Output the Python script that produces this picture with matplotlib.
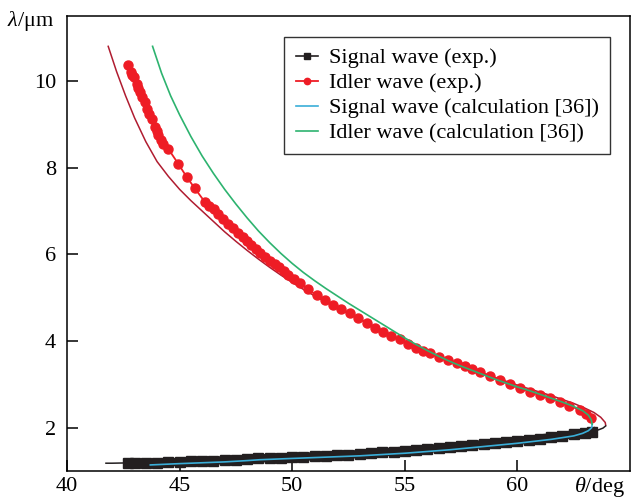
import matplotlib
matplotlib.use("Agg")
import matplotlib.pyplot as plt

plt.rcParams['font.family'] = ['Liberation Serif', 'DejaVu Serif']
plt.rcParams['mathtext.fontset'] = 'custom'
plt.rcParams['mathtext.rm'] = 'Liberation Serif'
plt.rcParams['mathtext.it'] = 'Liberation Serif:italic'

# Signal wave, experiment (deg, um)
sig_exp_theta = [42.7, 43.0, 43.5, 44.0, 44.5, 45.0, 45.5, 46.0, 46.5, 47.0, 47.5, 48.0,
                 48.5, 49.0, 49.5, 50.0, 50.5, 51.0, 51.5, 52.0, 52.5, 53.0, 53.5, 54.0,
                 54.5, 55.0, 55.5, 56.0, 56.5, 57.0, 57.5, 58.0, 58.5, 59.0, 59.5, 60.0,
                 60.5, 61.0, 61.5, 62.0, 62.5, 63.0, 63.3]
sig_exp_lam = [1.18, 1.18, 1.19, 1.19, 1.20, 1.21, 1.22, 1.23, 1.24, 1.25, 1.26, 1.27,
               1.29, 1.30, 1.31, 1.32, 1.33, 1.34, 1.35, 1.37, 1.38, 1.39, 1.41, 1.43,
               1.45, 1.47, 1.49, 1.51, 1.53, 1.56, 1.58, 1.60, 1.62, 1.65, 1.67, 1.70,
               1.72, 1.75, 1.78, 1.81, 1.85, 1.88, 1.91]

# Idler wave, experiment
idl_exp_theta = [42.69, 42.84, 42.90, 42.97, 43.09, 43.17, 43.24, 43.35, 43.46, 43.56, 43.66,
                 43.76, 43.90, 43.98, 44.05, 44.16, 44.27, 44.49, 44.94, 45.31, 45.68, 46.12,
                 46.30, 46.52, 46.72, 46.93, 47.14, 47.35, 47.58, 47.82, 48.00, 48.19, 48.38,
                 48.56, 48.78, 49.01, 49.22, 49.42, 49.62, 49.82, 50.08, 50.34, 50.70, 51.08,
                 51.45, 51.81, 52.18, 52.56, 52.93, 53.30, 53.66, 54.03, 54.40, 54.77, 55.14,
                 55.51, 55.80, 56.10, 56.50, 56.92, 57.30, 57.66, 58.00, 58.32, 58.77, 59.21,
                 59.65, 60.10, 60.55, 60.99, 61.43, 61.87, 62.30, 62.76, 63.05, 63.28]
idl_exp_lam = [10.36, 10.21, 10.15, 10.09, 9.92, 9.83, 9.74, 9.62, 9.51, 9.36, 9.25,
               9.13, 8.94, 8.85, 8.75, 8.65, 8.55, 8.44, 8.09, 7.79, 7.52, 7.21,
               7.12, 7.04, 6.93, 6.82, 6.71, 6.61, 6.50, 6.40, 6.30, 6.21, 6.12,
               6.03, 5.93, 5.84, 5.77, 5.70, 5.61, 5.52, 5.42, 5.33, 5.19, 5.06,
               4.94, 4.83, 4.73, 4.64, 4.53, 4.42, 4.31, 4.21, 4.12, 4.04, 3.94,
               3.84, 3.78, 3.73, 3.64, 3.56, 3.49, 3.42, 3.35, 3.29, 3.19, 3.10,
               3.00, 2.91, 2.83, 2.75, 2.68, 2.60, 2.51, 2.41, 2.32, 2.22]

# Fitted curve through the experiment (idler branch, then signal branch)
fit_idl_theta = [41.83, 42.2, 42.6, 43.0, 43.5, 44.0, 44.5, 45.0, 45.5, 46.0, 46.5, 47.0,
                 47.5, 48.0, 48.5, 49.0, 49.5, 50.0, 50.5, 51.0, 51.5, 52.0, 52.5, 53.0,
                 53.5, 54.0, 54.5, 55.0, 55.5, 56.0, 56.5, 57.0, 57.5, 58.0, 58.5, 59.0,
                 59.5, 60.0, 60.5, 61.0, 61.5, 62.0, 62.5, 63.0, 63.4, 63.7, 63.9, 63.92]
fit_idl_lam = [10.80, 10.22, 9.66, 9.15, 8.60, 8.14, 7.80, 7.50, 7.24, 7.00, 6.76, 6.52,
               6.30, 6.09, 5.89, 5.70, 5.52, 5.35, 5.19, 5.04, 4.90, 4.76, 4.63, 4.50,
               4.37, 4.24, 4.11, 3.98, 3.86, 3.74, 3.63, 3.53, 3.43, 3.34, 3.25, 3.16,
               3.07, 2.98, 2.90, 2.82, 2.74, 2.65, 2.56, 2.45, 2.35, 2.24, 2.12, 2.06]
fit_sig_theta = [63.92, 63.8, 63.6, 63.3, 63.0, 62.0, 61.0, 60.0, 58.0, 56.0, 54.0, 52.0,
                 50.0, 48.0, 46.0, 44.0, 42.0, 41.73]
fit_sig_lam = [2.04, 1.99, 1.95, 1.91, 1.88, 1.80, 1.74, 1.69, 1.59, 1.50, 1.42, 1.36,
               1.31, 1.27, 1.23, 1.20, 1.18, 1.18]

# Calculation [36]
calc_sig_theta = [43.7, 45.0, 46.0, 47.0, 48.0, 48.56, 50.0, 51.0, 52.0, 53.0, 54.0, 55.0,
                  56.0, 57.0, 58.0, 59.0, 60.0, 61.0, 61.5, 62.0, 62.5, 62.9, 63.15, 63.3, 63.32]
calc_sig_lam = [1.14, 1.17, 1.19, 1.21, 1.24, 1.26, 1.29, 1.31, 1.33, 1.35, 1.38, 1.41,
                1.45, 1.49, 1.54, 1.59, 1.64, 1.70, 1.73, 1.77, 1.81, 1.87, 1.93, 2.00, 2.08]
calc_idl_theta = [43.8, 44.2, 44.6, 45.0, 45.5, 46.0, 46.5, 47.0, 47.5, 48.0, 48.5, 49.0,
                  49.5, 50.0, 50.5, 51.0, 51.5, 52.0, 52.5, 53.0, 53.5, 54.0, 54.5, 55.0,
                  55.5, 56.0, 56.5, 57.0, 57.5, 58.0, 58.5, 59.0, 59.5, 60.0, 60.5, 61.0,
                  61.5, 62.0, 62.5, 62.9, 63.15, 63.28, 63.32]
calc_idl_lam = [10.80, 10.18, 9.66, 9.22, 8.72, 8.27, 7.87, 7.50, 7.16, 6.84, 6.54, 6.27,
                6.02, 5.79, 5.58, 5.39, 5.21, 5.04, 4.87, 4.71, 4.55, 4.39, 4.23, 4.07,
                3.92, 3.78, 3.65, 3.53, 3.42, 3.32, 3.22, 3.12, 3.03, 2.94, 2.86, 2.77,
                2.68, 2.59, 2.49, 2.39, 2.29, 2.18, 2.08]

x_ticks = [40, 45, 50, 55, 60]
y_ticks = [2, 4, 6, 8, 10]

fig = plt.figure(figsize=(6.31, 4.99), dpi=100)
ax = fig.add_axes([67 / 631, 1 - 471 / 499, (630 - 67) / 631, (471 - 16) / 499])

# fitted curve (under the data)
ax.plot(fit_idl_theta, fit_idl_lam, color='#b01c30', lw=1.1, zorder=1)
ax.plot(fit_sig_theta, fit_sig_lam, color='#231f20', lw=1.1, zorder=1)

# experiment
ax.plot(sig_exp_theta, sig_exp_lam, color='#231f20', lw=6, marker='s', ms=6.5,
        label='Signal wave (exp.)', zorder=2)
ax.plot(idl_exp_theta, idl_exp_lam, color='#ee1c25', lw=1.3, marker='o', ms=6.5,
        mec='#ee1c25', label='Idler wave (exp.)', zorder=2)

# calculation
ax.plot(calc_sig_theta, calc_sig_lam, color='#3aaed8', lw=1.2,
        label='Signal wave (calculation [36])', zorder=3)
ax.plot(calc_idl_theta, calc_idl_lam, color='#2db36f', lw=1.2,
        label='Idler wave (calculation [36])', zorder=3)

ax.set_xlim(40, 65)
ax.set_ylim(1, 11.5)
ax.set_xticks(x_ticks)
ax.set_yticks(y_ticks)
ax.set_xticklabels([str(t) for t in x_ticks])
ax.set_yticklabels([str(t) for t in y_ticks])
ax.tick_params(direction='in', length=8, width=1.1, labelsize=16)
ax.tick_params(axis='x', pad=4)
ax.tick_params(axis='y', pad=8)
for s in ax.spines.values():
    s.set_linewidth(1.1)

fig.text(625 / 631, 1 - 487 / 499, r'$\theta$/deg', ha='right', va='center', fontsize=16)
fig.text(54 / 631, 1 - 21 / 499, r'$\lambda$/μm', ha='right', va='center', fontsize=16)

leg = ax.legend(loc='upper right', bbox_to_anchor=(610 / 631, 1 - 36.7 / 499),
                bbox_transform=fig.transFigure, borderaxespad=0, fontsize=16,
                frameon=True, fancybox=False, handlelength=1.0, handletextpad=0.5,
                labelspacing=0.2, borderpad=0.5, markerscale=0.7)
leg.get_frame().set_edgecolor('black')
leg.get_frame().set_linewidth(1.0)
leg.get_lines()[0].set_linewidth(1.2)

fig.savefig('out.png', dpi=100)
